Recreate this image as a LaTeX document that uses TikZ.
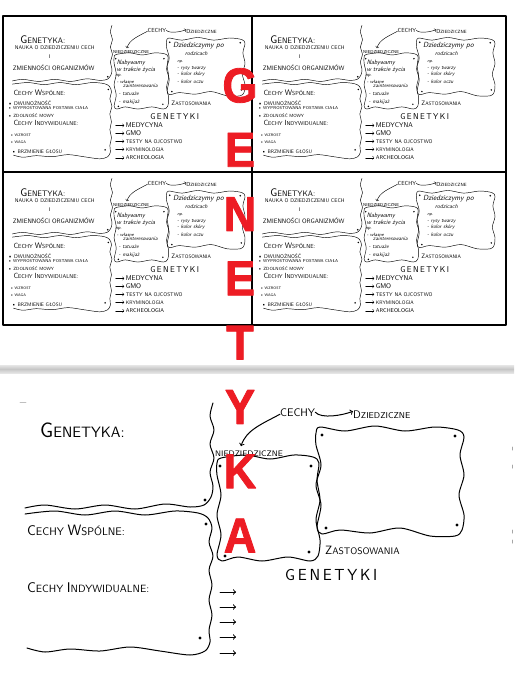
\documentclass[tikz,border=0pt]{standalone}
\usepackage{fontspec}
\usetikzlibrary{positioning}
\newfontfamily\posterfont{Liberation Sans}[FakeStretch=0.92,FakeBold=1.6]
\definecolor{posterred}{HTML}{ED1C24}

\newcommand{\hcap}[2]{{\fontsize{#1}{#1}\selectfont #2}}

\tikzset{
  wave/.style={line width=1pt},
  hand/.style={font=\sffamily\fontsize{#1}{#1}\selectfont, inner sep=0pt, anchor=base west},
  note/.style={font=\sffamily\fontsize{#1}{#1}\selectfont, inner sep=0pt, anchor=west},
  script/.style={font=\sffamily\itshape\fontsize{#1}{#1}\selectfont, inner sep=0pt, anchor=west},
  redletter/.style={font=\posterfont\bfseries\fontsize{49}{49}\selectfont, text=posterred, inner sep=0pt},
}

% empty worksheet (coordinates of the large copy)
\newcommand{\sheetframe}{%
  \draw[wave] plot[smooth] coordinates {(213,403) (210,416) (214,430) (210,444) (214,458) (210,472)
    (213,486) (211,497) (204,505) (190,507) (165,504) (135,509) (105,505) (75,509) (45,505) (25,508)};
  \draw[wave] plot[smooth] coordinates {(25,514) (55,511) (85,515) (115,511) (145,515) (175,511)
    (198,513) (208,518) (212,528) (209,542) (213,556) (209,570) (212,585) (209,600) (212,615)
    (209,630) (210,642) (205,651) (190,655) (160,651) (130,647) (100,651) (70,649) (45,652) (27,648)};
  \draw[wave] plot[smooth cycle] coordinates {(221,458) (246,455) (270,459) (294,455) (313,457)
    (319,463) (317,480) (320,500) (316,520) (320,540) (318,556) (310,561) (288,557) (262,561)
    (238,557) (222,561) (217,555) (221,535) (217,515) (221,495) (217,475) (217,463)};
  \draw[wave] plot[smooth cycle] coordinates {(320,427) (345,431) (375,426) (405,431) (435,427)
    (458,430) (464,437) (460,455) (464,475) (459,495) (464,515) (462,530) (455,536) (430,536)
    (400,528) (370,533) (340,530) (322,534) (317,527) (321,505) (316,485) (321,465) (316,445) (316,433)};
  \foreach \p in {(205,500),(206,524),(200,638),(220,466),(311,466),(225,556),(309,552),
    (322,435),(455,436),(326,528),(457,525)}
    \fill \p circle (1.6);
  \node[hand=15] (gen) at (40,437) {\hcap{21}{G}ENETYKA:};
  \node[hand=11] (wsp) at (27,535) {\hcap{14}{C}ECHY \hcap{15}{W}SPÓLNE:};
  \node[hand=10.5] (ind) at (27,592) {\hcap{14}{C}ECHY \hcap{14}{I}NDYWIDUALNE:};
  \node[hand=11] (cechy) at (280,416) {CECHY};
  \node[hand=8.5] (dzied) at (353,418) {\hcap{11}{D}ZIEDZICZNE};
  \node[hand=8] (niedz) at (215,456) {NIEDZIEDZICZNE};
  \node[hand=9.5] (zast) at (325,554) {\hcap{12}{Z}ASTOSOWANIA};
  \node[hand=16] (genk) at (285,580) {G\,E\,N\,E\,T\,Y\,K\,I};
  \draw[wave,->] (cechy.east) .. controls +(6,7) and +(-10,4) .. ([yshift=3pt]dzied.west);
  \draw[wave,->] ([yshift=-2pt]cechy.west) .. controls (262,424) and (246,430) .. ([xshift=-8pt,yshift=4pt]niedz.north);
  \foreach \y [count=\i] in {592,607,622,637,653}
    \draw[wave,->] (220,\y) coordinate (arrow\i) -- (236,\y) coordinate (tip\i);
}

% filled-in notes of the small copies
\newcommand{\sheetfill}{%
  \node[note=10,anchor=center] (def1) at (105,446) {NAUKA O DZIEDZICZENIU CECH};
  \node[note=10,anchor=center] (def2) at (96,463) {I};
  \node[note=12,anchor=center] (def3) at (103,484) {ZMIENNOŚCI ORGANIZMÓW};
  \node[note=10] (w1) at (17,550) {• DWUNOŻNOŚĆ};
  \node[note=8] (w2) at (17,560) {• WYPROSTOWANA POSTAWA CIAŁA};
  \node[note=8.5] (w3) at (17,573) {• ZDOLNOŚĆ MOWY};
  \node[note=7] (i1) at (21,610) {• WZROST};
  \node[note=7] (i2) at (21,623) {• WAGA};
  \node[note=9.5] (i3) at (24,642) {• BRZMIENIE GŁOSU};
  \node[script=12] (n1) at (222,474) {Nabywamy};
  \node[script=12] (n2) at (222,487) {w trakcie życia};
  \node[script=9] (n3) at (219,499) {np.};
  \node[script=9] (n4) at (222,509) {- własne};
  \node[script=10] (n5) at (234,518) {zainteresowania};
  \node[script=10] (n6) at (226,533) {- tatuaże};
  \node[script=10] (n7) at (226,548) {- makijaż};
  \node[script=14] (d1) at (328,442) {Dziedziczymy po};
  \node[script=11] (d2) at (351,456) {rodzicach};
  \node[script=8] (d3) at (336,472) {np.};
  \node[script=10] (d4) at (336,484) {- rysy twarzy};
  \node[script=10] (d5) at (336,496) {- kolor skóry};
  \node[script=10] (d6) at (336,509) {- kolor oczu};
  \node[note=13,right=3pt of tip1] (app1) {MEDYCYNA};
  \node[note=13,right=3pt of tip2] (app2) {GMO};
  \node[note=10,right=3pt of tip3] (app3) {TESTY NA OJCOSTWO};
  \node[note=9.5,right=3pt of tip4] (app4) {KRYMINOLOGIA};
  \node[note=10.5,right=3pt of tip5] (app5) {ARCHEOLOGIA};
}

\begin{document}
\begin{tikzpicture}[x=1pt,y=-1pt,line cap=round,line join=round]
  \useasboundingbox (0,0) rectangle (514,679);
  % four filled copies
  \draw[line width=1.4pt] (3,16) rectangle (506,325);
  \draw[line width=1.4pt] (252,16) -- (252,325);
  \draw[line width=1.4pt] (3,172) -- (506,172);
  \foreach \dx/\dy [count=\cell] in {0/0,250/0,0/153,250/153}{
    \begin{scope}[shift={(-0.9+\dx,-188.3+\dy)}, scale=0.53, transform shape,
        name prefix=t\cell-, wave/.style={line width=0.45pt}]
      \sheetframe
      \sheetfill
    \end{scope}
  }
  % separator
  \shade[top color=gray!20, bottom color=gray!20, middle color=gray!45] (0,365) rectangle (514,373);
  % large empty copy
  \begin{scope}[name prefix=big-]
    \sheetframe
  \end{scope}
  \draw[gray!50, line width=0.8pt] (20,402) -- (26,402);
  \foreach \y in {447,465,530,540}
    \draw[gray!70, line width=1pt] (512,\y) -- (512,\y+3);
  % title letters
  \foreach \ch [count=\i from 0] in {G,E,N,E,T,Y,K,A}
    \node[redletter] (letter\i) at (240,85.5+64.3*\i) {\ch};
\end{tikzpicture}
\end{document}
